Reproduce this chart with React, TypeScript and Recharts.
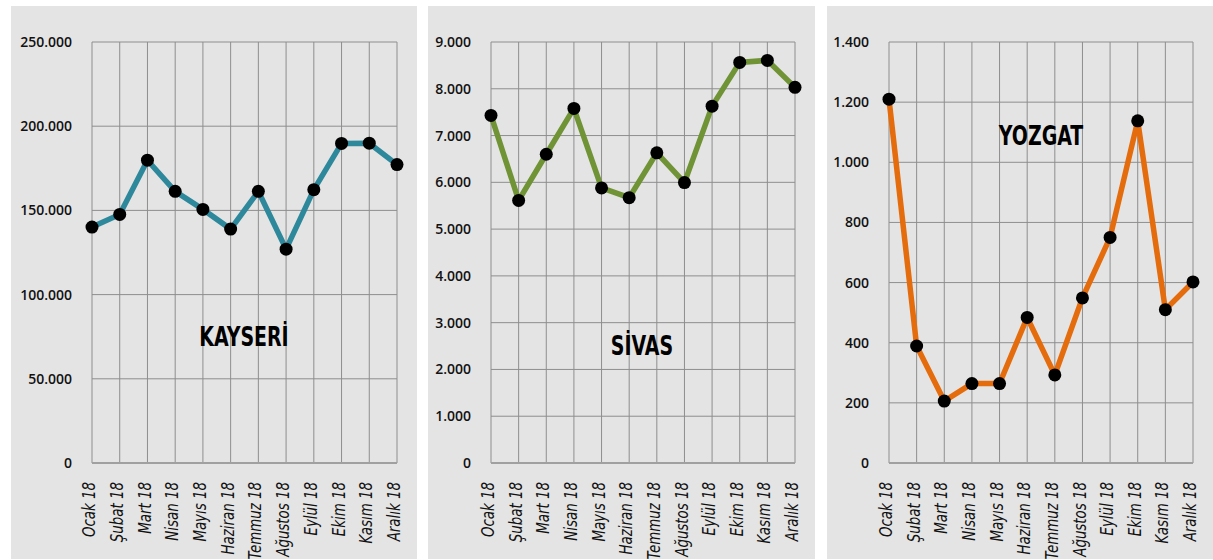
import React from "react";
import { LineChart, Line, XAxis, YAxis, CartesianGrid } from "recharts";

const months = ["Ocak 18", "Şubat 18", "Mart 18", "Nisan 18", "Mayıs 18", "Haziran 18", "Temmuz 18", "Ağustos 18", "Eylül 18", "Ekim 18", "Kasım 18", "Aralık 18"];
const kayseri = [140100, 147600, 179800, 161300, 150600, 138900, 161300, 127000, 162300, 189800, 189900, 177200];
const sivas = [7430, 5614, 6600, 7580, 5880, 5672, 6630, 5995, 7629, 8564, 8607, 8030];
const yozgat = [1210, 389, 206, 264, 264, 484, 293, 549, 750, 1138, 510, 602];
const kayseriTicks = [0, 50000, 100000, 150000, 200000, 250000];
const sivasTicks = [0, 1000, 2000, 3000, 4000, 5000, 6000, 7000, 8000, 9000];
const yozgatTicks = [0, 200, 400, 600, 800, 1000, 1200, 1400];

const fmt = (v: number) => {
  const s = String(Math.round(v));
  return s.replace(/\B(?=(\d{3})+(?!\d))/g, ".");
};

const condensed = "'DejaVu Sans Condensed', sans-serif";

const XTick = (props: any) => {
  const { x, y, payload } = props;
  return (
    <g transform={`translate(${x - 3}, ${y + 11}) rotate(-90) scale(0.85, 1)`}>
      <text x={0} y={0} dy="0.35em" textAnchor="end" fontFamily={condensed} fontStyle="italic" fontSize={17.5} fill="#111">
        {payload.value}
      </text>
    </g>
  );
};

type PanelProps = {
  left: number;
  width: number;
  yWidth: number;
  values: number[];
  ticks: number[];
  max: number;
  color: string;
  title: string;
  titleX: number;
  titleY: number;
};

const Panel = ({ left, width, yWidth, values, ticks, max, color, title, titleX, titleY }: PanelProps) => {
  const data = months.map((m, i) => ({ m, v: values[i] }));
  return (
    <div style={{ position: "absolute", left, top: 6, width, height: 553, background: "#e4e4e4" }}>
      <LineChart width={width} height={553} data={data} margin={{ top: 36, right: 20, bottom: 0, left: 0 }}>
        <CartesianGrid stroke="#8e8e8e" strokeWidth={1} />
        <XAxis dataKey="m" interval={0} height={96} axisLine={{ stroke: "#a0a0a0", strokeWidth: 2 }} tickLine={false} tick={<XTick />} />
        <YAxis
          width={yWidth}
          domain={[0, max]}
          ticks={ticks}
          interval={0}
          axisLine={false}
          tickLine={false}
          tickSize={0}
          tickMargin={20}
          tickFormatter={fmt}
          tick={{ fill: "#111", fontSize: 14, fontFamily: "'Open Sans', sans-serif", fontWeight: 600 }}
        />
        <Line
          type="linear"
          dataKey="v"
          stroke={color}
          strokeWidth={5.5}
          dot={{ r: 6.5, fill: "#000", stroke: "none" }}
          activeDot={false}
          isAnimationActive={false}
        />
      </LineChart>
      <div
        style={{
          position: "absolute",
          left: titleX - left - 80,
          top: titleY - 6 - 16,
          width: 160,
          textAlign: "center",
          fontFamily: condensed,
          fontWeight: 700,
          fontSize: 27,
          lineHeight: "32px",
          color: "#000",
          transform: "scaleX(0.78)",
        }}
      >
        {title}
      </div>
    </div>
  );
};

export default function App() {
  return (
    <div style={{ position: "absolute", left: 0, top: 0, width: 1213, height: 560, background: "#fff", overflow: "hidden" }}>
      <Panel left={11} width={406} yWidth={81} values={kayseri} ticks={kayseriTicks} max={250000} color="#2e889b" title="KAYSERİ" titleX={244} titleY={337} />
      <Panel left={428} width={387} yWidth={63} values={sivas} ticks={sivasTicks} max={9000} color="#6f9335" title="SİVAS" titleX={642} titleY={346} />
      <Panel left={827} width={386} yWidth={62} values={yozgat} ticks={yozgatTicks} max={1400} color="#e46c0c" title="YOZGAT" titleX={1041} titleY={136} />
    </div>
  );
}
